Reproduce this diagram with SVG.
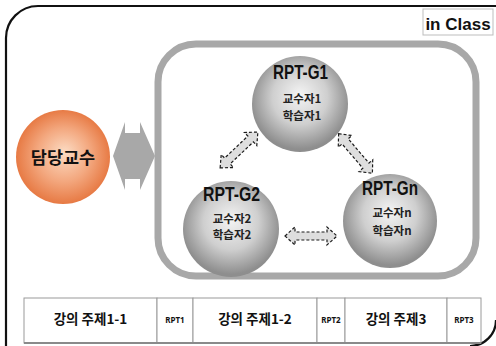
<svg xmlns="http://www.w3.org/2000/svg" xmlns:xlink="http://www.w3.org/1999/xlink" width="496" height="346" viewBox="0 0 496 346">
  <style>
    .frame { fill: none; stroke: #111; stroke-width: 2.2; }
    .group-box { fill: #fff; stroke: #a8a8a8; stroke-width: 7; }
    .head { font-family: "Liberation Sans Narrow", "Liberation Sans", sans-serif; font-weight: bold; fill: #111; }
    .kr { font-family: "Noto Sans CJK KR", sans-serif; font-weight: bold; text-anchor: middle; }
    .member { font-size: 11.5px; fill: #222; }
    .cell { fill: #fff; stroke: #9a9a9a; stroke-width: 1; }
    .topic { font-size: 13.5px; fill: #111; }
    .rpt { font-family: "Noto Sans", "Liberation Sans", sans-serif; font-weight: bold; font-size: 8px; fill: #111; text-anchor: middle; }
    .link { fill: #dedede; stroke: #1a1a1a; stroke-width: 1.2; stroke-dasharray: 3 2; }
  </style>
  <defs>
    <radialGradient id="sphere" cx="50%" cy="45%" r="52%" fx="50%" fy="40%">
      <stop offset="0" stop-color="#f4f4f4"/>
      <stop offset="0.55" stop-color="#cfcfcf"/>
      <stop offset="1" stop-color="#8e8e8e"/>
    </radialGradient>
    <radialGradient id="orange" cx="50%" cy="50%" r="52%" fx="52%" fy="45%">
      <stop offset="0" stop-color="#fcdcc4"/>
      <stop offset="0.55" stop-color="#f3a77e"/>
      <stop offset="1" stop-color="#e6763f"/>
    </radialGradient>
    <!-- dashed two-way arrow, 52 long, centred on the origin -->
    <polygon id="link-arrow" class="link" points="-26,0 -16,-9 -16,-4 16,-4 16,-9 26,0 16,9 16,4 -16,4 -16,9"/>
  </defs>

  <rect width="496" height="346" fill="#fff"/>

  <!-- outer frame -->
  <path class="frame" d="M6,348 V38 A32,32 0 0 1 38,6 H498"/>
  <path class="frame" d="M496,320 A26,26 0 0 1 470,346"/>

  <!-- in Class tag -->
  <g id="tag-in-class">
    <rect x="423" y="9" width="70" height="26" fill="#fff" stroke="#bdbdbd" stroke-width="1"/>
    <text class="head" x="458" y="29.5" font-size="17" text-anchor="middle">in Class</text>
  </g>

  <!-- group container -->
  <g id="rpt-groups-box">
    <rect class="group-box" x="158" y="44" width="318" height="232" rx="38" ry="38"/>
  </g>

  <!-- professor -->
  <g id="node-professor">
    <circle cx="63" cy="157" r="47" fill="url(#orange)"/>
    <text class="kr" x="63" y="164" font-size="17.5" fill="#111">담당교수</text>
  </g>

  <g id="connectors">
    <!-- professor to groups -->
    <polygon fill="#a8a8a8" points="113,156 125,122 125,133 140,133 140,122 155,156 140,190 140,179 125,179 125,190"/>
    <!-- between groups -->
    <use xlink:href="#link-arrow" href="#link-arrow" transform="translate(239,150) rotate(-43.5)"/>
    <use xlink:href="#link-arrow" href="#link-arrow" transform="translate(355.5,153.5) rotate(49.5)"/>
    <use xlink:href="#link-arrow" href="#link-arrow" transform="translate(311,236)"/>
  </g>

  <g id="node-rpt-g1">
    <circle cx="300" cy="104" r="48" fill="url(#sphere)"/>
    <text class="head" x="273" y="79" font-size="19.5" textLength="55" lengthAdjust="spacingAndGlyphs">RPT-G1</text>
    <text class="kr member" x="302" y="103">교수자1</text>
    <text class="kr member" x="302" y="120">학습자1</text>
  </g>

  <g id="node-rpt-g2">
    <circle cx="231" cy="229" r="48" fill="url(#sphere)"/>
    <text class="head" x="203" y="201" font-size="19.5" textLength="57" lengthAdjust="spacingAndGlyphs">RPT-G2</text>
    <text class="kr member" x="232" y="223">교수자2</text>
    <text class="kr member" x="232" y="239">학습자2</text>
  </g>

  <g id="node-rpt-gn">
    <circle cx="390" cy="221" r="47" fill="url(#sphere)"/>
    <text class="head" x="362" y="195" font-size="19.5" textLength="56" lengthAdjust="spacingAndGlyphs">RPT-Gn</text>
    <text class="kr member" x="392" y="217">교수자n</text>
    <text class="kr member" x="392" y="235">학습자n</text>
  </g>

  <!-- lecture schedule strip -->
  <g id="schedule">
    <rect class="cell" x="24" y="298" width="133" height="45"/>
    <rect class="cell" x="157" y="298" width="36" height="45"/>
    <rect class="cell" x="193" y="298" width="124" height="45"/>
    <rect class="cell" x="317" y="298" width="28" height="45"/>
    <rect class="cell" x="345" y="298" width="102" height="45"/>
    <rect class="cell" x="447" y="298" width="34" height="45"/>
    <line x1="24" y1="343" x2="481" y2="343" stroke="#8a8a8a" stroke-width="2"/>
    <text class="kr topic" x="90.5" y="324">강의 주제1-1</text>
    <text class="rpt" x="175" y="323">RPT1</text>
    <text class="kr topic" x="255" y="324">강의 주제1-2</text>
    <text class="rpt" x="331" y="323">RPT2</text>
    <text class="kr topic" x="396" y="324">강의 주제3</text>
    <text class="rpt" x="464" y="323">RPT3</text>
  </g>
</svg>
